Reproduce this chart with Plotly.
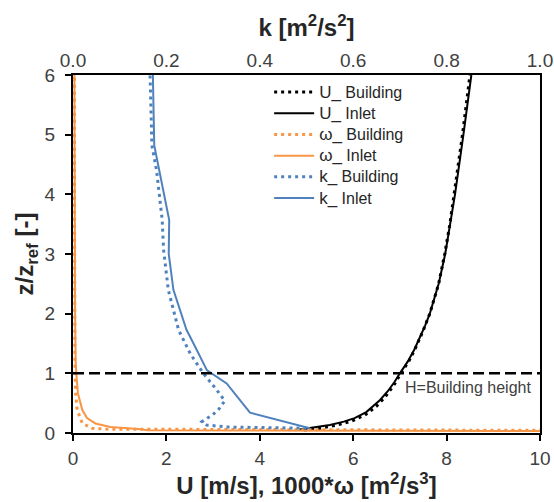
import plotly.graph_objects as go

# ---------------- data ----------------
# Mean velocity U [m/s] vs z/z_ref
z_U_bld = [0.05, 0.08, 0.134, 0.2, 0.3, 0.45, 0.6, 0.8, 1.0, 1.2, 1.4, 1.7, 2.0, 2.5, 3.0, 3.5, 4.0, 5.0, 6.0]
U_bld = [4.95, 5.3, 5.65, 5.97, 6.25, 6.5, 6.68, 6.87, 7.02, 7.19, 7.32, 7.49, 7.64, 7.83, 7.96, 8.07, 8.16, 8.34, 8.5]
z_U_inl = [0.06, 0.08, 0.1, 0.134, 0.19, 0.25, 0.35, 0.45, 0.55, 0.7, 0.85, 1.0, 1.2, 1.4, 1.6, 1.8, 2.0, 2.5, 3.0, 3.5, 4.0, 5.0, 6.0]
U_inl = [4.85, 5.0, 5.22, 5.5, 5.8, 6.03, 6.28, 6.43, 6.57, 6.74, 6.88, 7.0, 7.17, 7.31, 7.43, 7.54, 7.64, 7.83, 7.97, 8.08, 8.18, 8.36, 8.53]

# 1000*omega [m2/s3] vs z/z_ref
z_w_bld = [0.04, 0.05, 0.055, 0.065, 0.08, 0.16, 0.385, 0.66, 1.22, 2.0, 3.0, 4.0, 5.0, 6.0]
w_bld = [12.0, 3.0, 1.5, 0.7, 0.41, 0.2, 0.09, 0.056, 0.04, 0.035, 0.03, 0.03, 0.03, 0.03]
z_w_inl = [0.03, 0.035, 0.045, 0.065, 0.08, 0.1, 0.16, 0.25, 0.385, 0.66, 1.0, 1.22, 2.0, 3.0, 4.0, 5.0, 6.0]
w_inl = [12.0, 4.0, 1.6, 1.4, 1.2, 0.8, 0.48, 0.3, 0.2, 0.106, 0.07, 0.056, 0.045, 0.04, 0.035, 0.03, 0.03]

# k [m2/s2] vs z/z_ref
z_k_bld = [0.08, 0.09, 0.1, 0.134, 0.19, 0.3, 0.385, 0.54, 0.75, 1.0, 1.33, 1.73, 2.4, 3.07, 3.57, 4.4, 4.82, 6.0]
k_bld = [0.50, 0.40, 0.33, 0.286, 0.276, 0.298, 0.311, 0.325, 0.305, 0.279, 0.251, 0.226, 0.204, 0.194, 0.191, 0.179, 0.169, 0.165]
z_k_inl = [0.08, 0.34, 0.83, 1.05, 1.61, 1.73, 2.4, 3.0, 3.57, 4.82, 6.0]
k_inl = [0.507, 0.379, 0.329, 0.287, 0.251, 0.243, 0.215, 0.205, 0.206, 0.174, 0.171]

building_height = 1.0

x_ticks = [0, 2, 4, 6, 8, 10]
k_ticks = [0.0, 0.2, 0.4, 0.6, 0.8, 1.0]
y_ticks = [0, 1, 2, 3, 4, 5, 6]

# ---------------- style ----------------
FONT = "Arial, Liberation Sans, sans-serif"
ORANGE = "#F79646"
BLUE = "#4F81BD"
DOT = "3px,4px"
TICKCOL = "#404040"
TITLECOL = "#262626"


def legend_label(sym, rest):
    return ("<span style='font-size:17px'>" + sym + "_</span>"
            "<span style='font-size:16px'> " + rest + "</span>")


fig = go.Figure()
fig.add_trace(go.Scatter(x=U_bld, y=z_U_bld, mode="lines", name=legend_label("U", "Building"),
                         line=dict(color="black", width=3, dash=DOT)))
fig.add_trace(go.Scatter(x=U_inl, y=z_U_inl, mode="lines", name=legend_label("U", "Inlet"),
                         line=dict(color="black", width=2)))
fig.add_trace(go.Scatter(x=w_bld, y=z_w_bld, mode="lines", name=legend_label("ω", "Building"),
                         line=dict(color=ORANGE, width=3, dash=DOT)))
fig.add_trace(go.Scatter(x=w_inl, y=z_w_inl, mode="lines", name=legend_label("ω", "Inlet"),
                         line=dict(color=ORANGE, width=2)))
fig.add_trace(go.Scatter(x=k_bld, y=z_k_bld, mode="lines", name=legend_label("k", "Building"),
                         xaxis="x2", line=dict(color=BLUE, width=3, dash=DOT)))
fig.add_trace(go.Scatter(x=k_inl, y=z_k_inl, mode="lines", name=legend_label("k", "Inlet"),
                         xaxis="x2", line=dict(color=BLUE, width=2)))

fig.add_shape(type="line", xref="x", yref="y", x0=0, x1=10,
              y0=building_height, y1=building_height,
              line=dict(color="black", width=2.5, dash="11px,5px"))
fig.add_annotation(x=9.86, y=building_height, xref="x", yref="y", text="H=Building height",
                   showarrow=False, xanchor="right", yanchor="top", yshift=-4,
                   font=dict(family=FONT, size=16, color=TICKCOL))

fig.update_layout(
    width=554, height=502,
    margin=dict(l=73, r=14, t=75, b=69, autoexpand=False),
    paper_bgcolor="white", plot_bgcolor="white",
    font=dict(family=FONT, color=TICKCOL),
    showlegend=True,
    legend=dict(x=0.42, y=0.996, xanchor="left", yanchor="top",
                bgcolor="rgba(0,0,0,0)", font=dict(family=FONT, size=14, color=TITLECOL),
                tracegroupgap=0, itemwidth=40),
    xaxis=dict(range=[0, 10], tickvals=x_ticks, ticks="outside", ticklen=6, tickwidth=2,
               tickcolor="black", showline=True, linewidth=2, linecolor="black", mirror=True,
               showgrid=False, zeroline=False, automargin=False, ticklabelstandoff=1,
               tickfont=dict(family=FONT, size=19, color=TICKCOL),
               title=dict(text="<b>U [m/s], 1000*ω [m<sup>2</sup>/s<sup>3</sup>]</b>",
                          font=dict(family=FONT, size=24, color=TITLECOL), standoff=0)),
    xaxis2=dict(range=[0, 1], tickvals=k_ticks, tickformat=".1f", overlaying="x", side="top",
                ticks="", showline=False, showgrid=False, zeroline=False, automargin=False,
                ticklabelstandoff=3,
                tickfont=dict(family=FONT, size=19, color=TICKCOL),
                title=dict(text="<b>k [m<sup>2</sup>/s<sup>2</sup>]</b>",
                           font=dict(family=FONT, size=24, color=TITLECOL), standoff=6)),
    yaxis=dict(range=[0, 6], tickvals=y_ticks, ticks="outside", ticklen=6, tickwidth=2,
               tickcolor="black", showline=True, linewidth=2, linecolor="black", mirror=True,
               showgrid=False, zeroline=False, automargin=False, ticklabelstandoff=6,
               tickfont=dict(family=FONT, size=19, color=TICKCOL),
               title=dict(text="<b>z/z<sub>ref</sub> [-]</b>",
                          font=dict(family=FONT, size=24, color=TITLECOL), standoff=4)),
)

fig.write_html("out.html")
